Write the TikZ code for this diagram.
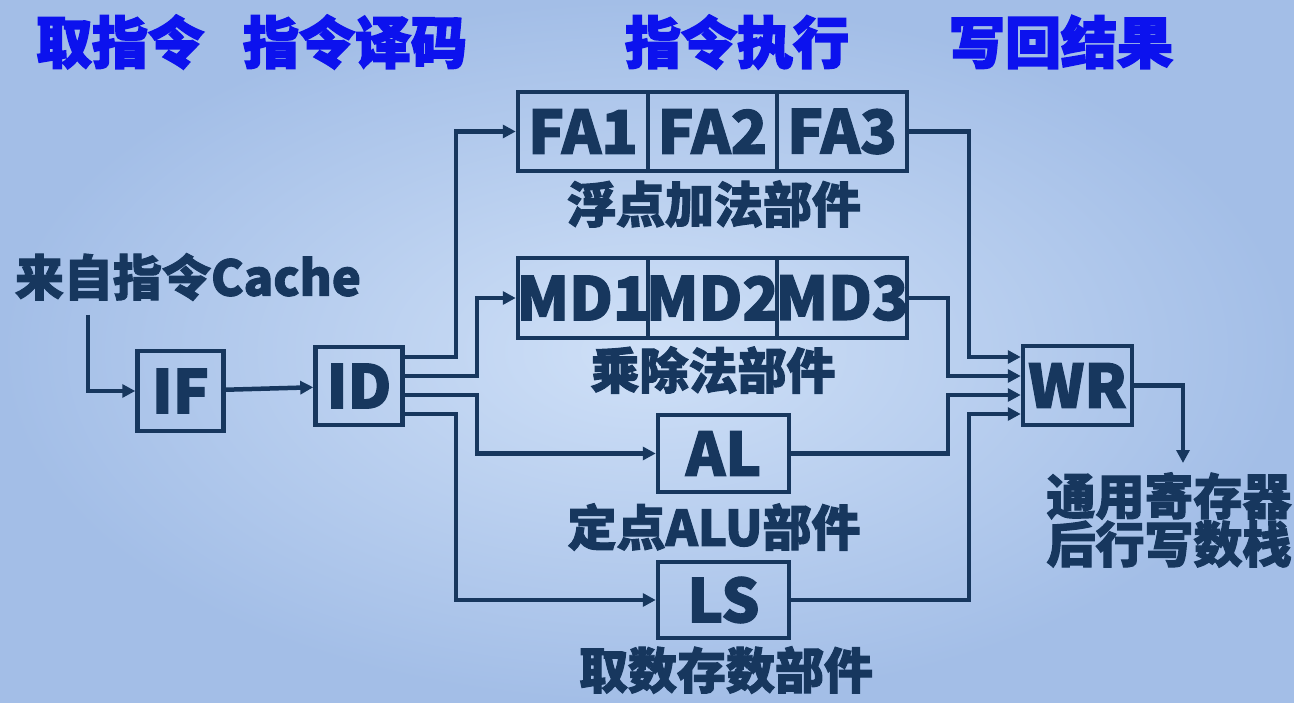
\documentclass[tikz,border=0pt]{standalone}
\usepackage{fontspec}
\setmainfont{Noto Sans CJK SC}
\newfontfamily\heavy{Noto Sans CJK SC}[BoldFeatures={FakeBold=3}]
\newfontfamily\semiheavy{Noto Sans CJK SC}[BoldFeatures={FakeBold=2}]
\usetikzlibrary{arrows.meta,calc}
\definecolor{navy}{HTML}{17375E}
\definecolor{hblue}{HTML}{0C12EE}
\definecolor{bgin}{HTML}{CFE0F7}
\definecolor{bgout}{HTML}{A3BEE7}
\begin{document}
\begin{tikzpicture}[x=1pt,y=-1pt,
  box/.style={draw=navy,line width=4.5pt,inner sep=0pt,text=navy,font=\fontsize{60}{60}\selectfont\semiheavy\bfseries},
  lbl/.style={text=navy,inner sep=0pt,font=\fontsize{49}{48}\selectfont\semiheavy\bfseries},
  hdr/.style={text=hblue,inner sep=0pt,font=\fontsize{56}{56}\selectfont\heavy\bfseries},
  conn/.style={draw=navy,line width=4.5pt,-{Triangle[length=13pt,width=13pt]}}]
\shade[inner color=bgin,outer color=bgout] (0,0) rectangle (1294,703);
\useasboundingbox (0,0) rectangle (1294,703);
% headers
\node[hdr] (h1) at (120,42) {取指令};
\node[hdr] (h2) at (355,42) {指令译码};
\node[hdr] (h3) at (737,42) {指令执行};
\node[hdr] (h4) at (1061,42) {写回结果};
% boxes
\node[box,minimum width=86pt,minimum height=80pt] (IF) at (180.5,391) {\makebox[0pt]{IF}};
\node[box,minimum width=87pt,minimum height=78pt] (ID) at (359,386) {\makebox[0pt]{ID}};
\node[box,minimum width=130pt,minimum height=79pt] (FA1) at (583,131.5) {\makebox[0pt]{FA1}};
\node[box,minimum width=129pt,minimum height=79pt] (FA2) at (712.5,131.5) {\makebox[0pt]{FA2}};
\node[box,minimum width=130pt,minimum height=79pt] (FA3) at (842,131.5) {\makebox[0pt]{FA3}};
\node[box,minimum width=130pt,minimum height=80pt] (MD1) at (583,298) {\makebox[0pt]{MD1}};
\node[box,minimum width=129pt,minimum height=80pt] (MD2) at (712.5,298) {\makebox[0pt]{MD2}};
\node[box,minimum width=130pt,minimum height=80pt] (MD3) at (842,298) {\makebox[0pt]{MD3}};
\node[box,minimum width=131pt,minimum height=77pt] (AL) at (723.5,453.5) {\makebox[0pt]{AL}};
\node[box,minimum width=131pt,minimum height=76pt] (LS) at (723.5,600) {\makebox[0pt]{LS}};
\node[box,minimum width=109pt,minimum height=79pt] (WR) at (1077.5,385.5) {\makebox[0pt]{WR}};
% labels
\node[lbl] (lin) at (188,277) {来自指令Cache};
\node[lbl] (lfa) at (714,204) {浮点加法部件};
\node[lbl] (lmd) at (713,370) {乘除法部件};
\node[lbl] (lal) at (714,527) {定点ALU部件};
\node[lbl] (lls) at (726,670) {取数存数部件};
\node[lbl,align=center] (lreg) at (1169,520) {通用寄存器\\后行写数栈};
% junction columns
\coordinate (j1) at (456,0);
\coordinate (j2) at (477,0);
\coordinate (j3) at (969,0);
\coordinate (j4) at (948,0);
\coordinate (inp) at (88,315);
\coordinate (wout) at (1183,463);
\coordinate (o1) at ($(ID.east)+(0,-29)$);
\coordinate (o2) at ($(ID.east)+(0,-10)$);
\coordinate (o3) at ($(ID.east)+(0,9)$);
\coordinate (o4) at ($(ID.east)+(0,28)$);
\coordinate (w1) at ($(WR.west)+(0,-28.5)$);
\coordinate (w2) at ($(WR.west)+(0,-9.5)$);
\coordinate (w3) at ($(WR.west)+(0,9.5)$);
\coordinate (w4) at ($(WR.west)+(0,28.5)$);
% connectors
\draw[conn] (inp) |- (IF.west);
\draw[conn] (IF) -- (ID);
\draw[conn] (o1) -- (o1 -| j1) |- (FA1.west);
\draw[conn] (o2) -- (o2 -| j2) |- (MD1.west);
\draw[conn] (o3) -- (o3 -| j2) |- (AL.west);
\draw[conn] (o4) -- (o4 -| j1) |- (LS.west);
\draw[conn] (FA3.east) -| (w1 -| j3) -- (w1);
\draw[conn] (MD3.east) -| (w2 -| j4) -- (w2);
\draw[conn] (AL.east) -| (w3 -| j4) -- (w3);
\draw[conn] (LS.east) -| (w4 -| j3) -- (w4);
\draw[conn] (WR.east) -| (wout);
\end{tikzpicture}
\end{document}
